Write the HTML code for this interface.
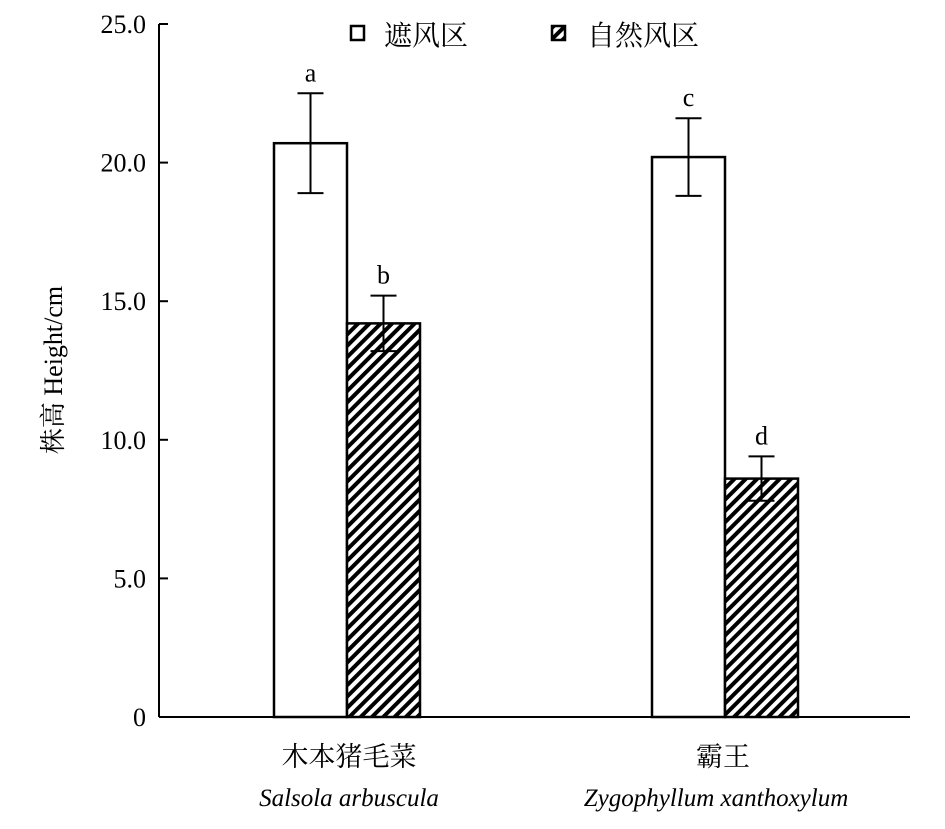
<!DOCTYPE html>
<html><head><meta charset="utf-8"><style>
body{margin:0;background:#fff}
svg text{font-family:"Liberation Serif","Noto Serif CJK SC",serif;fill:#000}
</style></head><body>
<svg id="c" width="945" height="824" xmlns="http://www.w3.org/2000/svg">
<defs>
<pattern id="hatch" patternUnits="userSpaceOnUse" width="8" height="8" patternTransform="rotate(45)">
<rect width="8" height="8" fill="#fff"/><rect x="0" y="0" width="4" height="8" fill="#000"/>
</pattern>
</defs>
<g id="axes"></g>
<g id="bars"></g>
<g>
<rect x="351" y="26" width="13" height="14" fill="#fff" stroke="#000" stroke-width="2.5"/>
<text x="384" y="45" font-size="28">遮风区</text>
<rect x="552" y="26" width="13" height="14" fill="url(#hatch)" stroke="#000" stroke-width="2.5"/>
<text x="587" y="45" font-size="28">自然风区</text>
</g>
<text transform="translate(62,370) rotate(-90)" text-anchor="middle" font-size="26">株高 Height/cm</text>
<text x="349" y="766" text-anchor="middle" font-size="27">木本猪毛菜</text>
<text x="349" y="806" text-anchor="middle" font-size="25" font-style="italic">Salsola arbuscula</text>
<text x="723" y="766" text-anchor="middle" font-size="27">霸王</text>
<text x="716" y="806" text-anchor="middle" font-size="25" font-style="italic">Zygophyllum xanthoxylum</text>
</svg>
<script>
const categories=["木本猪毛菜","霸王"];
const sheltered=[20.7,20.2];
const shelteredErr=[1.8,1.4];
const natural=[14.2,8.6];
const naturalErr=[1.0,0.8];
const letters1=["a","c"];
const letters2=["b","d"];
const yTicks=[0,5,10,15,20,25];
const yTickLabels=["0","5.0","10.0","15.0","20.0","25.0"];
const NS="http://www.w3.org/2000/svg";
const y0=717,y1=24,ymax=25;
function y(v){return y0-(v/ymax)*(y0-y1);}
const groupX=[274,652],bw=73;
function mk(t,a,p){const e=document.createElementNS(NS,t);for(const k in a)e.setAttribute(k,a[k]);p.appendChild(e);return e;}
const ax=document.getElementById('axes'),bars=document.getElementById('bars');
let l=mk('line',{x1:159,y1:y1,x2:159,y2:y0,stroke:'#000','stroke-width':2},ax);


l=mk('line',{x1:159,y1:y0,x2:910,y2:y0,stroke:'#000','stroke-width':2},ax);


yTicks.forEach((v,i)=>{
 const t=mk('line',{x1:159,x2:168,y1:y(v),y2:y(v),stroke:'#000','stroke-width':2},ax);
 
 
 const tx=mk('text',{x:146,y:y(v)+9,'text-anchor':'end','font-size':26},ax);
 tx.textContent=yTickLabels[i];
 
 
});
function bar(x,v,e,fill,lab,name){
 const r=mk('rect',{x:x,y:y(v),width:bw,height:y0-y(v),fill:fill,stroke:'#000','stroke-width':2.5},bars);
 
 
 const cx=x+bw/2;
 const g=mk('g',{stroke:'#000','stroke-width':2},bars);
 
 
 mk('line',{x1:cx,x2:cx,y1:y(v+e),y2:y(v-e)},g);
 mk('line',{x1:cx-13,x2:cx+13,y1:y(v+e),y2:y(v+e)},g);
 mk('line',{x1:cx-13,x2:cx+13,y1:y(v-e),y2:y(v-e)},g);
 const t=mk('text',{x:cx,y:y(v+e)-12,'text-anchor':'middle','font-size':26},bars);
 t.textContent=lab;
 
 
}
categories.forEach((c,i)=>{
 bar(groupX[i],sheltered[i],shelteredErr[i],'#fff',letters1[i],'bar-sheltered-'+(i+1));
 bar(groupX[i]+bw,natural[i],naturalErr[i],'url(#hatch)',letters2[i],'bar-natural-'+(i+1));
});
</script>
</body></html>
